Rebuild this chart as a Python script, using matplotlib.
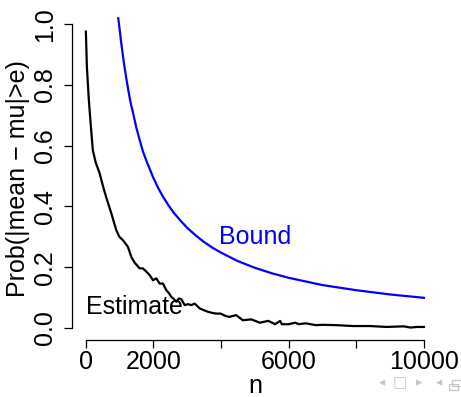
import numpy as np
import matplotlib
matplotlib.use('Agg')
import matplotlib.pyplot as plt
from matplotlib.patches import Rectangle

plt.rcParams['font.family'] = ['Liberation Sans', 'DejaVu Sans']

# simulated estimate of P(|mean - mu| > e)
n_est = [10, 40, 98, 160, 216, 300, 414, 520, 612, 760, 908, 1000, 1105, 1252, 1352,
         1450, 1598, 1696, 1800, 1894, 1992, 2091, 2190, 2288, 2387, 2460, 2535,
         2610, 2683, 2760, 2831, 2930, 3027, 3125, 3225, 3373, 3500, 3620, 3750,
         3870, 3990, 4120, 4240, 4450, 4650, 4900, 5150, 5400, 5600, 5750, 5800,
         6000, 6200, 6300, 6500, 6650, 6800, 7000, 7400, 7900, 8400, 8900, 9400,
         9600, 9800, 10000]
p_est = [0.976, 0.86, 0.75, 0.66, 0.585, 0.545, 0.51, 0.465, 0.43, 0.378, 0.322, 0.30,
         0.289, 0.267, 0.234, 0.215, 0.196, 0.196, 0.185, 0.174, 0.157, 0.163, 0.146,
         0.146, 0.124, 0.115, 0.102, 0.095, 0.086, 0.097, 0.094, 0.075, 0.078, 0.075,
         0.080, 0.064, 0.058, 0.053, 0.049, 0.047, 0.047, 0.040, 0.036, 0.042, 0.025,
         0.028, 0.017, 0.023, 0.012, 0.023, 0.012, 0.012, 0.017, 0.012, 0.015, 0.012,
         0.009, 0.010, 0.009, 0.006, 0.006, 0.003, 0.005, 0.001, 0.003, 0.003]

# Chebyshev bound
n_bnd = [967, 1000, 1050, 1100, 1150, 1200, 1250, 1300, 1350, 1400, 1500, 1600,
         1700, 1800, 2000, 2150, 2300, 2450, 2600, 2800, 3000, 3250, 3500, 3750,
         4000, 4500, 5000, 5500, 6000, 7000, 8000, 9000, 10000]
p_bnd = [1.02, 0.99, 0.943, 0.90, 0.861, 0.825, 0.792, 0.76, 0.733, 0.71, 0.66, 0.619,
         0.58, 0.55, 0.495, 0.46, 0.43, 0.404, 0.38, 0.354, 0.33, 0.305, 0.283, 0.264,
         0.248, 0.22, 0.198, 0.18, 0.165, 0.141, 0.124, 0.11, 0.099]

xticks = [0, 2000, 4000, 6000, 8000, 10000]
xlabels = ['0', '2000', '', '6000', '', '10000']
yticks = [0.0, 0.2, 0.4, 0.6, 0.8, 1.0]

W, H = 461, 397
fig = plt.figure(figsize=(W / 100, H / 100), dpi=100)
ax = fig.add_axes([72 / W, 1 - 340 / H, (437.5 - 72) / W, (340 - 12.2) / H])

ax.plot(n_est, p_est, color='black', lw=1.6)
ax.plot(n_bnd, p_bnd, color='blue', lw=1.6)
ax.text(5000, 0.30, 'Bound', color='blue', fontsize=18, ha='center', va='center')
ax.text(1450, 0.07, 'Estimate', color='black', fontsize=18, ha='center', va='center')

ax.set_xlim(-400, 10400)
ax.set_ylim(-0.04, 1.04)
for s in ['top', 'right']:
    ax.spines[s].set_visible(False)
ax.spines['left'].set_bounds(0, 1)
ax.spines['bottom'].set_bounds(0, 10000)
for s in ['left', 'bottom']:
    ax.spines[s].set_linewidth(0.9)

ax.set_xticks(xticks)
ax.set_xticklabels(xlabels)
ax.set_yticks(yticks)
ax.set_yticklabels(['%.1f' % v for v in yticks], rotation=90, va='center')
ax.tick_params(direction='out', length=5.5, width=0.9, labelsize=18)
ax.tick_params(axis='y', pad=5)
ax.tick_params(axis='x', pad=2)

fig.text(18 / W, 1 - 179 / H, 'Prob(|mean \u2212 mu|>e)', rotation=90,
         ha='center', va='center', fontsize=18)
fig.text(255 / W, 1 - 386 / H, 'n', ha='center', va='center', fontsize=18)

# beamer navigation symbols
nav = '#c8c8c8'
for xp, ch, fs in [(382, '\u25c2', 9), (400, '\u25a1', 11), (419, '\u25b8', 9),
                   (439, '\u25c2', 9)]:
    fig.text(xp / W, 1 - 383 / H, ch, color=nav, fontsize=fs, ha='center',
             va='center', family='DejaVu Sans')
fig.patches.append(Rectangle((449 / W, 1 - 390 / H), 9 / W, 6 / H, fill=False,
                             ec=nav, lw=0.9, transform=fig.transFigure))
fig.patches.append(Rectangle((452 / W, 1 - 386 / H), 9 / W, 6 / H, fill=False,
                             ec=nav, lw=0.9, transform=fig.transFigure))

fig.savefig('out.png', dpi=100)
